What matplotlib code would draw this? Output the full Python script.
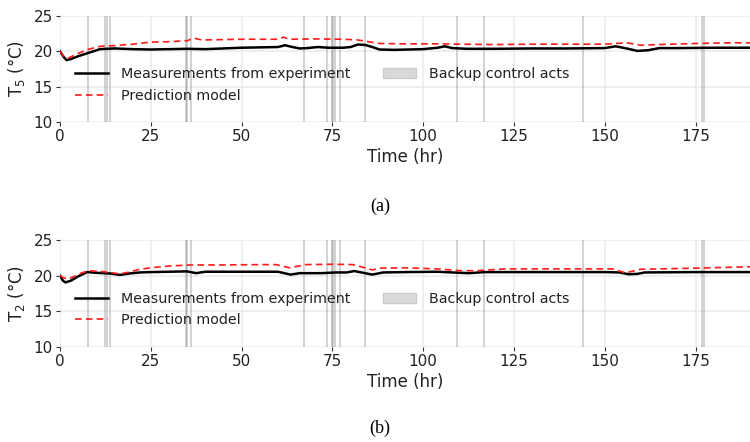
import matplotlib
matplotlib.use("Agg")
import matplotlib.pyplot as plt
from matplotlib.lines import Line2D
from matplotlib.patches import Patch

# panel (a): T5
t_meas5 = [0, 1, 1.8, 3, 5, 8, 11, 15, 20, 25, 30, 35, 40, 45, 50, 55, 60, 62, 64, 66,
           68, 71, 74, 78, 80, 82, 84, 86, 88, 92, 100, 104, 106, 108, 112, 120, 130,
           140, 150, 153, 156, 159, 162, 165, 170, 180, 190]
meas5 = [20.0, 19.2, 18.75, 18.9, 19.3, 19.8, 20.3, 20.4, 20.3, 20.25, 20.3, 20.35, 20.3,
         20.4, 20.5, 20.55, 20.6, 20.85, 20.6, 20.4, 20.45, 20.6, 20.5, 20.5, 20.6, 20.95,
         20.9, 20.6, 20.25, 20.2, 20.3, 20.5, 20.7, 20.45, 20.35, 20.35, 20.4, 20.4, 20.45,
         20.7, 20.4, 20.05, 20.15, 20.45, 20.45, 20.5, 20.5]
t_pred5 = [0, 1, 2, 3, 5, 8, 11, 15, 20, 25, 30, 35, 37, 39, 45, 50, 55, 60, 61.5, 63, 70,
           78, 82, 85, 88, 95, 105, 110, 120, 130, 140, 150, 156, 160, 165, 175, 185, 190]
pred5 = [20.0, 19.3, 19.0, 19.2, 19.7, 20.3, 20.7, 20.8, 21.0, 21.3, 21.35, 21.5, 21.85,
         21.6, 21.65, 21.7, 21.7, 21.7, 22.0, 21.7, 21.75, 21.7, 21.6, 21.35, 21.1, 21.05,
         21.05, 21.0, 20.95, 21.0, 21.0, 21.0, 21.2, 20.85, 20.95, 21.1, 21.2, 21.2]

# panel (b): T2
t_meas2 = [0, 0.8, 1.5, 3, 5, 7.5, 10, 14, 16.5, 19, 22, 25, 30, 35, 37.5, 40, 50, 60,
           63.5, 66, 72, 76, 79, 81, 83, 86, 89, 95, 104, 108, 112.6, 117, 130, 150, 154,
           156.6, 159, 161, 175, 190]
meas2 = [20.0, 19.3, 19.05, 19.3, 19.9, 20.5, 20.4, 20.3, 20.1, 20.3, 20.45, 20.5, 20.55,
         20.6, 20.35, 20.55, 20.55, 20.55, 20.15, 20.35, 20.35, 20.45, 20.45, 20.65, 20.45,
         20.15, 20.45, 20.5, 20.55, 20.45, 20.35, 20.5, 20.5, 20.5, 20.45, 20.2, 20.25,
         20.45, 20.5, 20.5]
t_pred2 = [0, 1, 2, 4, 6, 8, 12, 16.5, 19, 22, 25, 30, 35.7, 45, 55, 59.5, 63.2, 67.8, 75,
           80.6, 84, 86, 88, 95, 104, 110, 115, 122.7, 140, 152, 155.7, 160, 175, 190]
pred2 = [20.0, 19.7, 19.5, 19.9, 20.4, 20.7, 20.55, 20.25, 20.5, 20.9, 21.1, 21.35, 21.5,
         21.5, 21.55, 21.55, 21.1, 21.55, 21.6, 21.55, 21.1, 20.8, 21.05, 21.1, 20.95, 20.7,
         20.7, 20.95, 20.95, 20.95, 20.4, 20.9, 21.05, 21.25]

# times of backup control acts (hr)
backup_hr = [7.6, 12.4, 13.0, 13.7, 34.6, 35.0, 36.2, 67.3, 73.4, 74.9, 75.3, 75.8, 77.2,
             84.0, 109.4, 116.8, 144.0, 176.8, 177.2]

panels = [
    ("T$_5$ (°C)", "(a)", t_meas5, meas5, t_pred5, pred5),
    ("T$_2$ (°C)", "(b)", t_meas2, meas2, t_pred2, pred2),
]

fig = plt.figure(figsize=(7.5, 4.42), dpi=100)
plt.rcParams['font.family'] = ['DejaVu Sans']
txt = '#222222'

boxes = [[0.08, 0.724, 0.92, 0.24], [0.08, 0.215, 0.92, 0.242]]
caption_y = [1 - 206 / 442, 1 - 428 / 442]

for (ylab, cap, tm, m, tp, p), box, cy in zip(panels, boxes, caption_y):
    ax = fig.add_axes(box)
    for x in backup_hr:
        ax.axvline(x, color='#808080', alpha=0.35, lw=1.4, zorder=1)
    ax.plot(tm, m, color='black', lw=1.8, zorder=3)
    ax.plot(tp, p, color='#ff1a1a', lw=1.2, ls=(0, (4, 2.5)), zorder=4)

    ax.set_xlim(0, 190)
    ax.set_ylim(10, 25)
    ax.set_xticks([0, 25, 50, 75, 100, 125, 150, 175])
    ax.set_yticks([10, 15, 20, 25])
    ax.grid(True, color='#ebebeb', lw=1.1, zorder=0)
    ax.set_axisbelow(True)
    for s in ax.spines.values():
        s.set_visible(False)
    ax.tick_params(length=3, width=0.8, color='#333333', labelsize=11,
                   labelcolor=txt, pad=2)
    ax.set_xlabel('Time (hr)', fontsize=12, color=txt, labelpad=3)
    ax.set_ylabel(ylab, fontsize=12, color=txt, labelpad=5)

    handles = [Line2D([], [], color='black', lw=1.8),
               Line2D([], [], color='#ff1a1a', lw=1.2, ls=(0, (4, 2.5))),
               Patch(facecolor='#d9d9d9', edgecolor='#cccccc')]
    labels = ['Measurements from experiment', 'Prediction model', 'Backup control acts']
    leg = ax.legend(handles, labels, ncol=2, loc='upper left', bbox_to_anchor=(0.022, 0.515),
                    frameon=False, fontsize=10.3, handlelength=2.3, handletextpad=0.9,
                    columnspacing=2.3, labelspacing=0.5, borderpad=0, borderaxespad=0)
    for t in leg.get_texts():
        t.set_color(txt)

    fig.text(0.507, cy, cap, ha='center', va='center', fontsize=13,
             family='Liberation Serif', color='black')

fig.savefig('out.png', dpi=100)
